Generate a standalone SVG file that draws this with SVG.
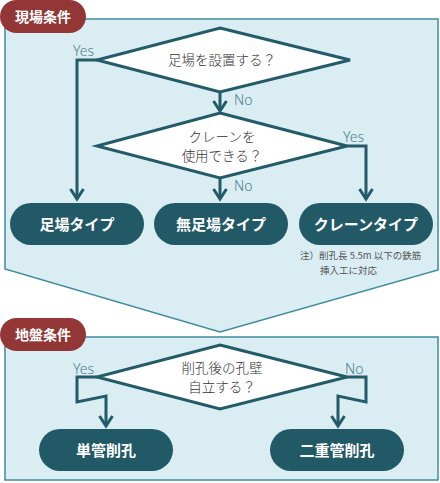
<svg xmlns="http://www.w3.org/2000/svg" width="440" height="483" viewBox="0 0 440 483">
<defs>
<style>
.panel{fill:#daedf3;stroke:#3f8c9b;stroke-width:1.5}
.tag{fill:#933636}
.tagt{fill:#fff;font-family:"Noto Sans CJK JP",sans-serif;font-weight:bold;font-size:14px;text-anchor:middle}
.dia{fill:#fff;stroke:#235b69;stroke-width:3;stroke-linejoin:miter}
.dt{fill:#333;font-family:"Noto Sans CJK JP",sans-serif;font-weight:300;font-size:13.5px;text-anchor:middle}
.line{fill:none;stroke:#235b69;stroke-width:3;stroke-linejoin:miter}
.ah{fill:none;stroke:#235b69;stroke-width:3;stroke-linejoin:miter;stroke-linecap:butt}
.lbl{fill:#4d7f8c;font-family:"Noto Sans",sans-serif;font-weight:300;font-size:14px}
.pill{fill:#225967}
.pt{fill:#fff;font-family:"Noto Sans CJK JP",sans-serif;font-weight:bold;font-size:15px;text-anchor:middle}
.note{fill:#555;font-family:"Noto Sans CJK JP",sans-serif;font-size:9.5px}
</style>
</defs>
<g id="panel-top">
<polygon class="panel" points="5,19 438,19 438,270 220,332 5,269"/>
<rect class="tag" x="0" y="0" width="86" height="33" rx="16.5"/>
<text class="tagt" x="43" y="22">現場条件</text>
</g>
<g id="panel-bottom">
<rect class="panel" x="5" y="337" width="433" height="143"/>
<rect class="tag" x="0" y="318" width="86" height="33" rx="16.5"/>
<text class="tagt" x="43" y="340">地盤条件</text>
</g>
<g id="connectors">
<polyline class="line" points="97,60 77,60 77,199"/>
<path class="ah" d="M70.5,189 L77,199 L83.5,189"/>
<line class="line" x1="220" y1="92" x2="220" y2="111"/>
<path class="ah" d="M213.5,101 L220,111 L226.5,101"/>
<polyline class="line" points="347,146 366,146 366,199"/>
<path class="ah" d="M359.5,189 L366,199 L372.5,189"/>
<line class="line" x1="220" y1="178" x2="220" y2="199"/>
<path class="ah" d="M213.5,189 L220,199 L226.5,189"/>
<polyline class="line" points="97,377 77,377 77,402 106,396 106,426"/>
<path class="ah" d="M99.5,416 L106,426 L112.5,416"/>
<polyline class="line" points="347,377 366,377 366,402 338,396 338,426"/>
<path class="ah" d="M331.5,416 L338,426 L344.5,416"/>
<text class="lbl" x="73" y="56">Yes</text>
<text class="lbl" x="234" y="105">No</text>
<text class="lbl" x="343" y="142">Yes</text>
<text class="lbl" x="234" y="191">No</text>
<text class="lbl" x="73" y="374">Yes</text>
<text class="lbl" x="345" y="374">No</text>
</g>
<g id="q1">
<polygon class="dia" points="220,28 350,60 220,92 97,60"/>
<text class="dt" x="222" y="65">足場を設置する？</text>
</g>
<g id="q2">
<polygon class="dia" points="220,113 347,146 220,178 97,146"/>
<text class="dt" x="222" y="142">クレーンを</text>
<text class="dt" x="222" y="161">使用できる？</text>
</g>
<g id="scaffold">
<rect class="pill" x="10" y="203" width="134" height="42" rx="21"/>
<text class="pt" x="77" y="229.5">足場タイプ</text>
</g>
<g id="no-scaffold">
<rect class="pill" x="154" y="203" width="134" height="42" rx="21"/>
<text class="pt" x="221" y="229.5">無足場タイプ</text>
</g>
<g id="crane">
<rect class="pill" x="299" y="203" width="134" height="42" rx="21"/>
<text class="pt" x="366" y="229.5">クレーンタイプ</text>
</g>
<g id="note">
<text class="note" x="300" y="259">注）削孔長 5.5m 以下の鉄筋</text>
<text class="note" x="320" y="274">挿入工に対応</text>
</g>
<g id="q3">
<polygon class="dia" points="220,345 347,377 220,409 97,377"/>
<text class="dt" x="222" y="373">削孔後の孔壁</text>
<text class="dt" x="222" y="392">自立する？</text>
</g>
<g id="single">
<rect class="pill" x="39" y="429" width="134" height="42" rx="21"/>
<text class="pt" x="106" y="455.5">単管削孔</text>
</g>
<g id="double">
<rect class="pill" x="270" y="429" width="134" height="42" rx="21"/>
<text class="pt" x="337" y="455.5">二重管削孔</text>
</g>
</svg>
